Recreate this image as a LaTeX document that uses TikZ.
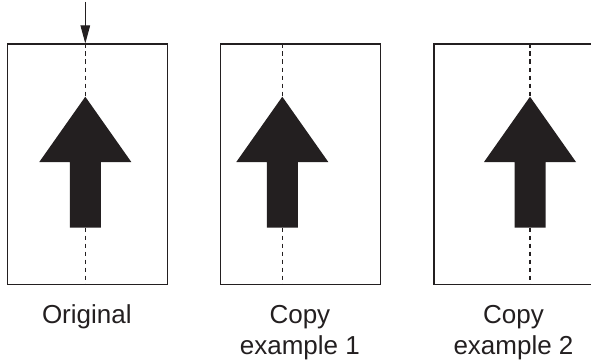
\documentclass[tikz,border=0pt]{standalone}
\usepackage{fontspec}
\setmainfont{Liberation Sans}
\usetikzlibrary{arrows.meta}
\definecolor{ink}{RGB}{35,31,32}
\begin{document}
\begin{tikzpicture}[x=1pt,y=-1pt,
  paper/.style={draw=ink,line width=1.2pt,inner sep=0pt,minimum width=160.3pt,minimum height=240.5pt,anchor=north west},
  axis/.style={draw=ink,line width=1.2pt,dash pattern=on 4.5pt off 3.5pt},
  lbl/.style={font=\fontsize{26}{31}\selectfont,align=center,text=ink,anchor=base,inner sep=0pt},
  feed/.style={draw=ink,line width=1pt,-{Triangle[length=18pt,width=9.5pt]}},
  uparrow/.pic={\fill[ink] (0,96.7) -- (46,162) -- (15.5,162) -- (15.5,227.5) -- (-15.5,227.5) -- (-15.5,162) -- (-46,162) -- cycle;}]
\useasboundingbox (0,0) rectangle (591,361);
% papers
\node[paper] (p1) at (6.7,43.5) {};
\node[paper] (p2) at (219.7,43.5) {};
\node[paper] (p3) at (433.3,43.5) {};
% centre lines
\coordinate (t1) at (85.3,43.5); \coordinate (b1) at (85.3,284);
\coordinate (t2) at (282.3,43.5); \coordinate (b2) at (282.3,284);
\coordinate (t3) at (530,43.5); \coordinate (b3) at (530,284);
\draw[axis] (t1) -- (b1);
\draw[axis] (t2) -- (b2);
\draw[axis] (t3) -- (b3);
% images
\pic at (85.3,0) {uparrow};
\pic at (282.3,0) {uparrow};
\pic at (530,0) {uparrow};
% feed arrow
\coordinate (in) at (85.3,2);
\draw[feed] (in) -- (t1);
% labels
\node[lbl] (l1) at (86.8,323.3) {Original};
\node[lbl] (l2) at (299.9,354) {Copy\\example 1};
\node[lbl] (l3) at (513.5,354) {Copy\\example 2};
\end{tikzpicture}
\end{document}
